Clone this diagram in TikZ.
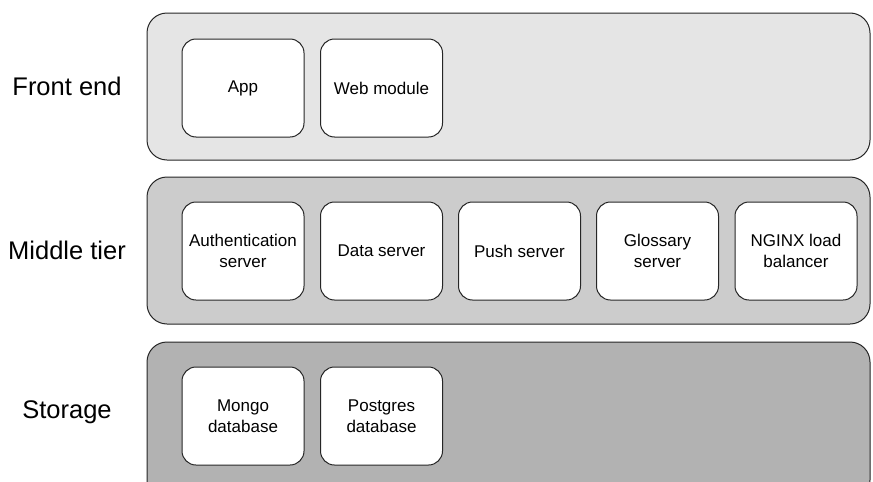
\documentclass[tikz,border=0pt]{standalone}
\usepackage{fontspec}
\setmainfont{Liberation Sans}
\begin{document}
\begin{tikzpicture}[x=1pt,y=-1pt,
  tier/.style={draw=black!85,line width=1pt,rounded corners=20pt},
  comp/.style={draw=black!85,line width=1pt,fill=white,rounded corners=14pt,
    minimum width=122pt,minimum height=98pt,inner sep=2pt,
    align=center,font=\fontsize{17}{20.5}\selectfont},
  lbl/.style={font=\fontsize{25.5}{29}\selectfont}]
\useasboundingbox (0,0) rectangle (873,482);
\begin{scope}
\clip (0,0) rectangle (873,482);
% tier bands
\draw[tier,fill=black!10] (147,13) rectangle (870,160);
\draw[tier,fill=black!20] (147,177) rectangle (870,324);
\draw[tier,fill=black!30] (147,342) rectangle (870,500);
\end{scope}
% tier labels
\node[lbl] (lfront) at (67,86) {Front end};
\node[lbl] (lmid) at (67,250) {Middle tier};
\node[lbl] (lstore) at (67,412) {Storage};
% front end components
\node[comp] (app) at (243,88) {App};
\node[comp] (web) at (381.5,88) {Web module};
% middle tier components
\node[comp] (auth) at (243,251) {Authentication\\server};
\node[comp] (data) at (381.5,251) {Data server};
\node[comp] (push) at (519.5,251) {Push server};
\node[comp] (gloss) at (657.5,251) {Glossary\\server};
\node[comp] (nginx) at (796,251) {NGINX load\\balancer};
% storage components
\node[comp] (mongo) at (243,416) {Mongo\\database};
\node[comp] (pg) at (381.5,416) {Postgres\\database};
\end{tikzpicture}
\end{document}
